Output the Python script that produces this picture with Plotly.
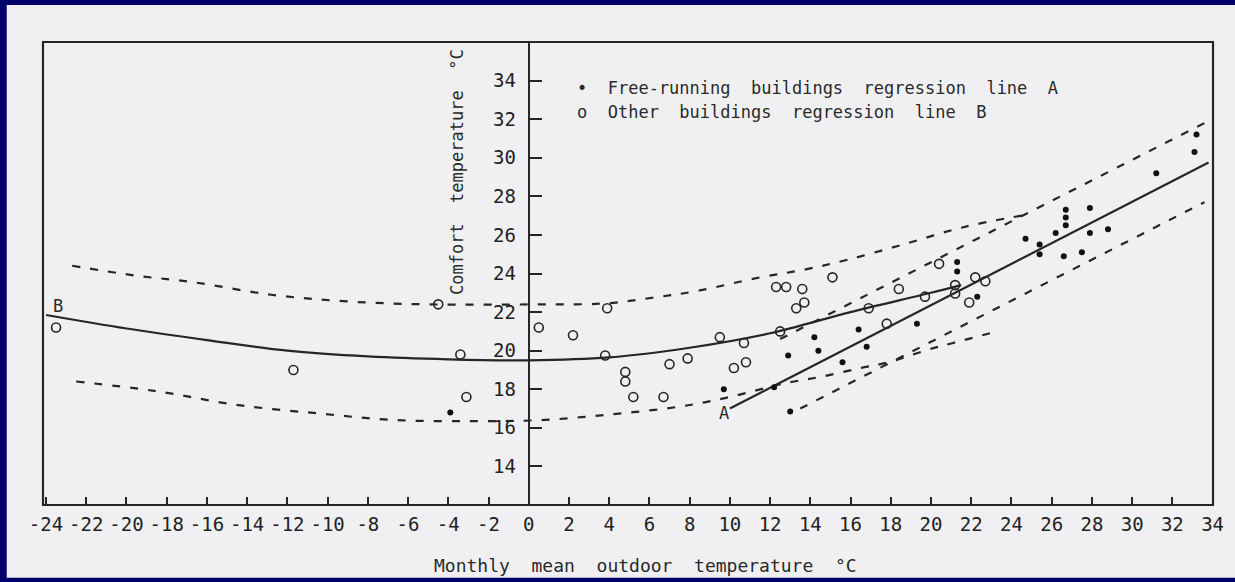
import plotly.graph_objects as go

# ---------------- data ----------------
x_ticks = list(range(-24, 35, 2))
x_tick_labels = [str(v) for v in x_ticks]
y_ticks = list(range(14, 35, 2))
y_tick_labels = [str(v) for v in y_ticks]

# Other buildings (open circles)
other_x = [-23.5, -11.7, -4.5, -3.4, -3.1, 0.5, 2.2, 3.9, 3.8, 4.8, 4.8, 5.2, 6.7, 7.0,
           7.9, 9.5, 10.7, 10.2, 10.8, 12.3, 12.8, 15.1, 13.6, 13.7, 13.3, 12.5, 16.9,
           18.4, 17.8, 19.7, 21.2, 21.2, 20.4, 22.2, 22.7, 21.9]
other_y = [21.2, 19.0, 22.4, 19.8, 17.6, 21.2, 20.8, 22.2, 19.75, 18.9, 18.4, 17.6, 17.6, 19.3,
           19.6, 20.7, 20.4, 19.1, 19.4, 23.3, 23.3, 23.8, 23.2, 22.5, 22.2, 21.0, 22.2,
           23.2, 21.4, 22.8, 23.4, 22.96, 24.5, 23.8, 23.6, 22.5]

# Free-running buildings (filled dots)
free_x = [-3.9, 9.7, 12.2, 13.0, 12.9, 14.2, 14.4, 15.6, 16.4, 16.8, 19.3, 21.3, 21.3, 22.3,
          24.7, 25.4, 25.4, 26.2, 26.7, 26.7, 26.7, 26.6, 27.5, 27.9, 27.9, 28.8, 31.2, 33.1, 33.2]
free_y = [16.8, 18.0, 18.1, 16.85, 19.75, 20.7, 20.0, 19.4, 21.1, 20.2, 21.4, 24.6, 24.1, 22.8,
          25.8, 25.5, 25.0, 26.1, 27.3, 26.9, 26.5, 24.9, 25.1, 27.4, 26.1, 26.3, 29.2, 30.3, 31.2]

# Regression line B (solid curve) and its dashed band
lineB_x = [-24, -20, -16, -12, -8, -4, 0, 4, 8, 12, 16, 20, 21.5]
lineB_y = [21.85, 21.15, 20.55, 20.0, 19.7, 19.55, 19.5, 19.65, 20.15, 20.9, 22.0, 23.0, 23.4]
bandB_up_x = [-22.7, -19.6, -16.7, -12.8, -9, -5, 0.6, 3.8, 6.2, 8.4, 11.5, 13.7, 15.8, 18.6, 21.6, 24.5]
bandB_up_y = [24.4, 23.9, 23.55, 22.9, 22.55, 22.4, 22.4, 22.45, 22.75, 23.1, 23.8, 24.2, 24.7, 25.5, 26.4, 27.0]
bandB_lo_x = [-22.5, -18.5, -14.6, -10.5, -6.6, -2.7, 0.6, 4.1, 7.5, 9.8, 12.7, 14.55, 16.5, 17.9, 19.85, 21.1, 23.1]
bandB_lo_y = [18.4, 17.9, 17.2, 16.75, 16.4, 16.35, 16.4, 16.7, 17.1, 17.55, 18.3, 18.65, 19.1, 19.4, 20.05, 20.4, 20.95]

# Regression line A (solid straight) and its dashed band
lineA_x = [10.0, 33.8]
lineA_y = [17.0, 29.75]
bandA_up_x = [12.5, 33.6]
bandA_up_y = [20.6, 31.8]
bandA_lo_x = [13.5, 33.6]
bandA_lo_y = [17.0, 27.7]

X_RANGE = [-24.15, 34.02]
Y_RANGE = [12, 36]

INK = "#262626"
MONO = "DejaVu Sans Mono"

fig = go.Figure()

def dashed(x, y, shape="spline"):
    fig.add_trace(go.Scatter(x=x, y=y, mode="lines", line=dict(color=INK, width=2.2, dash="8px,10px", shape=shape),
                             hoverinfo="skip"))

def solid(x, y, shape="spline"):
    fig.add_trace(go.Scatter(x=x, y=y, mode="lines", line=dict(color=INK, width=2.2, shape=shape),
                             hoverinfo="skip"))

dashed(bandB_up_x, bandB_up_y)
dashed(bandB_lo_x, bandB_lo_y)
dashed(bandA_up_x, bandA_up_y, "linear")
dashed(bandA_lo_x, bandA_lo_y, "linear")
solid(lineB_x, lineB_y)
solid(lineA_x, lineA_y, "linear")

fig.add_trace(go.Scatter(x=other_x, y=other_y, mode="markers",
                         marker=dict(symbol="circle-open", size=9, color=INK, line=dict(width=1.6, color=INK))))
fig.add_trace(go.Scatter(x=free_x, y=free_y, mode="markers",
                         marker=dict(symbol="circle", size=6, color="#111111")))

ypos = (0 - X_RANGE[0]) / (X_RANGE[1] - X_RANGE[0])

fig.update_layout(
    width=1235, height=582,
    margin=dict(l=43, r=22, t=42, b=77),
    paper_bgcolor="#00006b",
    plot_bgcolor="rgba(0,0,0,0)",
    showlegend=False,
    xaxis=dict(range=X_RANGE, tickvals=x_ticks, ticktext=x_tick_labels, ticks="inside", ticklen=8,
               tickwidth=1.8, tickcolor=INK, showgrid=False, zeroline=False, showline=False,
               tickfont=dict(family=MONO, size=19, color="#222"), ticklabelstandoff=6),
    yaxis=dict(range=Y_RANGE, anchor="free", position=ypos, tickvals=y_ticks, ticktext=y_tick_labels,
               ticks="inside", ticklen=12, tickwidth=1.8, tickcolor=INK, showline=True, linewidth=2.2,
               linecolor=INK, showgrid=False, zeroline=False,
               tickfont=dict(family=MONO, size=19, color="#222"), ticklabelstandoff=8),
    shapes=[
        dict(type="rect", xref="paper", yref="paper", x0=-0.031, x1=1.03, y0=-0.157, y1=1.08,
             fillcolor="#f0f0f3", line=dict(width=0), layer="below"),
        dict(type="rect", xref="paper", yref="paper", x0=0, x1=1, y0=0, y1=1,
             line=dict(color=INK, width=2.2), layer="above"),
    ],
    annotations=[
        dict(xref="paper", yref="paper", x=(575 - 43) / 1170, y=(505 - 88) / 463, xanchor="left", yanchor="middle",
             text="•  Free-running  buildings  regression  line  A", showarrow=False,
             font=dict(family=MONO, size=17, color="#2a2a2a")),
        dict(xref="paper", yref="paper", x=(575 - 43) / 1170, y=(505 - 112) / 463, xanchor="left", yanchor="middle",
             text="o  Other  buildings  regression  line  B", showarrow=False,
             font=dict(family=MONO, size=17, color="#2a2a2a")),
        dict(xref="paper", yref="paper", x=(646 - 43) / 1170, y=(505 - 565) / 463, xanchor="center", yanchor="middle",
             text="Monthly  mean  outdoor  temperature  °C", showarrow=False,
             font=dict(family=MONO, size=18, color="#2a2a2a")),
        dict(xref="paper", yref="paper", x=(457 - 43) / 1170, y=(505 - 172) / 463, xanchor="center", yanchor="middle",
             text="Comfort  temperature  °C", textangle=-90, showarrow=False,
             font=dict(family=MONO, size=17, color="#2a2a2a")),
        dict(x=-23.4, y=22.3, text="B", showarrow=False, font=dict(family=MONO, size=17, color="#2a2a2a")),
        dict(x=9.7, y=16.75, text="A", showarrow=False, font=dict(family=MONO, size=17, color="#2a2a2a")),
    ],
)

fig.write_html("out.html", config={"displayModeBar": False},
               post_script="document.body.style.margin='0';document.body.style.overflow='hidden';")
